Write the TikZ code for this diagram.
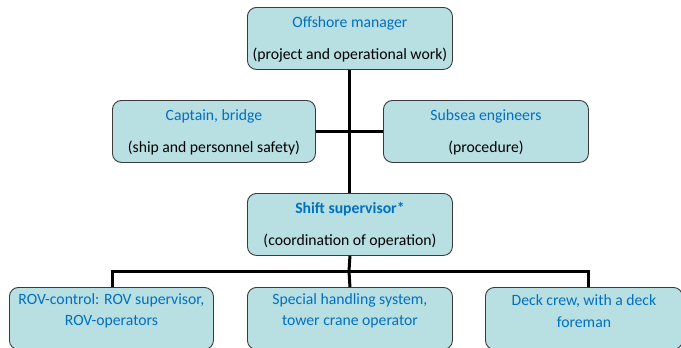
\documentclass[tikz,border=0pt]{standalone}
\usepackage{fontspec}
\setmainfont{Carlito}
\definecolor{boxfill}{HTML}{B8DFE2}
\definecolor{boxline}{HTML}{3A3A3A}
\definecolor{titleblue}{HTML}{0070C0}
\begin{document}
\begin{tikzpicture}[x=1pt,y=-1pt,
  orgbox/.style={draw=boxline,line width=0.9pt,fill=boxfill,rounded corners=9pt,
    minimum width=205pt,inner sep=0pt,anchor=north west},
  ttl/.style={text=titleblue,font=\fontsize{15.7}{18}\selectfont,inner sep=0pt},
  sub/.style={text=black,font=\fontsize{15.7}{18}\selectfont,inner sep=0pt},
  two/.style={text=titleblue,font=\fontsize{15.7}{21.5}\selectfont,align=center,inner sep=0pt},
  link/.style={line width=3pt}]
\useasboundingbox (0,0) rectangle (681,348);
% connectors
\coordinate (bar) at (349,271);
\coordinate (barl) at (112,271);
\coordinate (barr) at (588,271);
\coordinate (mid) at (349,131);
% boxes
\node[orgbox,minimum height=62pt] (om) at (247,7) {};
\node[orgbox,minimum height=62pt,minimum width=203pt] (cap) at (112,100) {};
\node[orgbox,minimum height=62pt] (sub) at (383,100) {};
\node[orgbox,minimum height=62pt] (ss) at (247,193) {};
\node[orgbox,minimum height=62pt,minimum width=204pt] (rov) at (9,287) {};
\node[orgbox,minimum height=62pt] (shs) at (247,287) {};
\node[orgbox,minimum height=62pt,minimum width=197pt] (deck) at (485,287) {};
\draw[link] (om.south) -- (ss.north);
\draw[link] (cap.east |- mid) -- (sub.west |- mid);
\draw[link] (ss.south) -- (bar);
\draw[link] (rov.north -| barl) -- (barl) -- (barr) -- (deck.north -| barr);
\draw[link] (bar) -- (shs.north);
% texts
\node[ttl] (omt) at ([yshift=-16pt]om.north) {Offshore manager};
\node[sub] (oms) at ([yshift=-48pt]om.north) {(project and operational work)};
\node[ttl] (capt) at ([yshift=-16pt]cap.north) {Captain, bridge};
\node[sub] (caps) at ([yshift=-48pt]cap.north) {(ship and personnel safety)};
\node[ttl] (subt) at ([yshift=-16pt]sub.north) {Subsea engineers};
\node[sub] (subs) at ([yshift=-48pt]sub.north) {(procedure)};
\node[ttl,font=\fontsize{15.7}{18}\selectfont\bfseries] (sst) at ([yshift=-16pt]ss.north) {Shift supervisor*};
\node[sub] (sss) at ([yshift=-48pt]ss.north) {(coordination of operation)};
\node[two] (rovt) at ([yshift=-24pt]rov.north) {ROV-control: ROV supervisor,\\ROV-operators};
\node[two] (shst) at ([yshift=-24pt]shs.north) {Special handling system,\\tower crane operator};
\node[two] (deckt) at ([yshift=-24pt]deck.north) {Deck crew, with a deck\\foreman};
\end{tikzpicture}
\end{document}
